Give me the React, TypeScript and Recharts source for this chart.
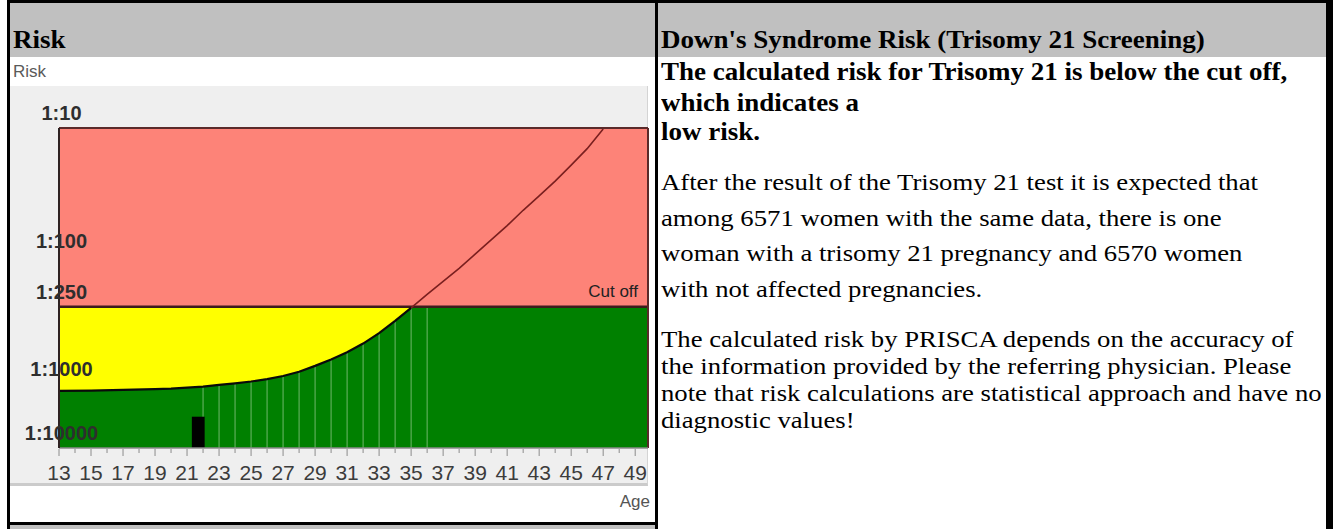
import React from "react";
import {
  ComposedChart,
  Area,
  Line,
  XAxis,
  YAxis,
  ReferenceLine,
  ReferenceArea,
} from "recharts";

// ---- chart data ----
const AGES = [13, 15, 17, 19, 20, 21, 22, 23, 24, 25, 26, 27, 28, 29, 30, 31, 32, 33, 34, 35, 36, 37, 38, 39, 40, 41, 42, 43, 44, 45, 46, 47];
const AGE_RISK = [1135, 1130, 1118, 1100, 1090, 1072, 1052, 1022, 992, 960, 920, 870, 805, 725, 645, 568, 485, 402, 322, 255, 200, 158, 125, 97, 75, 58, 44, 34, 26, 19.5, 14.5, 10.2];
const EXTRA_AGES = [48, 49, 49.8];
const X_DOMAIN = [13, 49.8];
const Y_TOP = 10;
const Y_BOTTOM = 3180;
const CUTOFF = 250;
const Y_TICKS = [10, 100, 250, 1000, 3180];
const Y_TICK_LABELS = ["1:10", "1:100", "1:250", "1:1000", "1:10000"];
const X_TICKS = [13, 14, 15, 16, 17, 18, 19, 20, 21, 22, 23, 24, 25, 26, 27, 28, 29, 30, 31, 32, 33, 34, 35, 36, 37, 38, 39, 40, 41, 42, 43, 44, 45, 46, 47, 48, 49];
const GRID_AGES = [22, 23, 24, 25, 26, 27, 28, 29, 30, 31, 32, 33, 34, 35, 36];
const PATIENT_FROM = 21.3;
const PATIENT_TO = 22.1;
const PATIENT_BAR_TOP = 1810;

// ---- text content ----
const LEFT_HEADER = "Risk";
const RIGHT_HEADER = "Down's Syndrome Risk (Trisomy 21 Screening)";
const TEXT_LINES = [
  { text: "The calculated risk for Trisomy 21 is below the cut off,", bold: true, baseline: 80 },
  { text: "which indicates a", bold: true, baseline: 111 },
  { text: "low risk.", bold: true, baseline: 140 },
  { text: "After the result of the Trisomy 21 test it is expected that", bold: false, baseline: 190 },
  { text: "among 6571 women with the same data, there is one", bold: false, baseline: 226 },
  { text: "woman with a trisomy 21 pregnancy and 6570 women", bold: false, baseline: 261 },
  { text: "with not affected pregnancies.", bold: false, baseline: 297 },
  { text: "The calculated risk by PRISCA depends on the accuracy of", bold: false, baseline: 347 },
  { text: "the information provided by the referring physician. Please", bold: false, baseline: 374 },
  { text: "note that risk calculations are statistical approach and have no", bold: false, baseline: 401 },
  { text: "diagnostic values!", bold: false, baseline: 428 },
];

const rows = [
  ...AGES.map((age, i) => ({ age, risk: AGE_RISK[i] as number | undefined })),
  ...EXTRA_AGES.map((age) => ({ age, risk: undefined as number | undefined })),
].map((r) => ({
  age: r.age,
  salmon: [CUTOFF, Y_TOP],
  yellow: [Y_BOTTOM, CUTOFF],
  green: [Y_BOTTOM, r.risk !== undefined ? Math.max(r.risk, CUTOFF) : CUTOFF],
  low: r.risk !== undefined && r.age <= 35 ? r.risk : null,
  high: r.risk !== undefined && r.age >= 35 ? r.risk : null,
}));

const riskAt = (age: number) => AGE_RISK[AGES.indexOf(age)];

const SANS = "'Liberation Sans', Arial, sans-serif";
const SERIF = "'Liberation Serif', 'Times New Roman', serif";

const YTick = (props: any) => {
  const { x, y, payload } = props;
  const i = Y_TICKS.indexOf(payload.value);
  return (
    <text
      x={x + 2.5}
      y={y - 15}
      textAnchor="middle"
      dominantBaseline="central"
      fontFamily={SANS}
      fontSize={20}
      fontWeight="bold"
      fill="#2e2e2e"
    >
      {Y_TICK_LABELS[i]}
    </text>
  );
};

const XTick = (props: any) => {
  const { x, y, payload } = props;
  const major = payload.value % 2 === 1;
  return (
    <g>
      <line x1={x} x2={x} y1={y + 1} y2={y + (major ? 8 : 5)} stroke="#8c8c8c" strokeWidth={1} />
      {major && (
        <text
          x={x}
          y={y + 24.5}
          textAnchor="middle"
          dominantBaseline="central"
          fontFamily={SANS}
          fontSize={21}
          fill="#3c3c3c"
        >
          {payload.value}
        </text>
      )}
    </g>
  );
};

const RiskChart = () => (
  <ComposedChart
    width={660}
    height={466}
    data={rows}
    margin={{ top: 71, right: 12, bottom: 35, left: 9 }}
  >
    <Area dataKey="salmon" type="linear" fill="#fd8378" fillOpacity={1} stroke="none" isAnimationActive={false} />
    <Area dataKey="yellow" type="linear" fill="#ffff00" fillOpacity={1} stroke="none" isAnimationActive={false} />
    <Area dataKey="green" type="linear" fill="#008000" fillOpacity={1} stroke="none" isAnimationActive={false} />
    {GRID_AGES.map((a) => (
      <ReferenceLine
        key={a}
        segment={[
          { x: a, y: Math.max(riskAt(a), CUTOFF) },
          { x: a, y: Y_BOTTOM },
        ]}
        stroke="#b9dcb0"
        strokeOpacity={0.6}
        strokeWidth={1}
        zIndex={150}
      />
    ))}
    <ReferenceArea
      x1={PATIENT_FROM}
      x2={PATIENT_TO}
      y1={PATIENT_BAR_TOP}
      y2={Y_BOTTOM}
      fill="#000000"
      fillOpacity={1}
      stroke="none"
      zIndex={160}
    />
    <ReferenceLine y={CUTOFF} stroke="#3e1c1c" strokeWidth={2.5}
      label={{ value: "Cut off", position: "insideBottomRight", offset: 10, fontFamily: SANS, fontSize: 17, fill: "#222" }} />
    <ReferenceLine y={Y_TOP} stroke="#5a2a2a" strokeWidth={2} />
    <ReferenceLine x={X_DOMAIN[1]} stroke="#5a2a2a" strokeWidth={2} />
    <Line dataKey="low" type="linear" stroke="#0a0a0a" strokeWidth={2.2} dot={false} isAnimationActive={false} connectNulls={false} />
    <Line dataKey="high" type="linear" stroke="#7a1f1f" strokeWidth={1.6} dot={false} isAnimationActive={false} connectNulls={false} />
    <XAxis
      dataKey="age"
      type="number"
      domain={X_DOMAIN}
      ticks={X_TICKS}
      interval={0}
      allowDataOverflow
      tickSize={0}
      tickMargin={0}
      height={40}
      axisLine={{ stroke: "#8a8a8a", strokeWidth: 1.5 }}
      tickLine={false}
      tick={<XTick />}
    />
    <YAxis
      type="number"
      scale="log"
      domain={[Y_TOP, Y_BOTTOM]}
      reversed
      allowDataOverflow
      ticks={Y_TICKS}
      interval={0}
      width={50}
      tickSize={0}
      tickMargin={0}
      axisLine={{ stroke: "#2e2222", strokeWidth: 2 }}
      tickLine={false}
      tick={<YTick />}
    />
  </ComposedChart>
);

const abs = (s: React.CSSProperties): React.CSSProperties => ({ position: "absolute", ...s });

const lineStyle = (left: number, baseline: number, bold: boolean): React.CSSProperties => {
  const size = bold ? 25 : 24;
  const stretch = bold ? 1.08 : 1.1125;
  return abs({
    left,
    top: baseline - 0.8375 * size,
    fontSize: size,
    lineHeight: size + "px",
    fontWeight: bold ? "bold" : "normal",
    whiteSpace: "nowrap",
    color: "#000",
    transform: `scaleX(${stretch})`,
    transformOrigin: "0 50%",
  });
};

export default function App() {
  return (
    <div style={abs({ left: 0, top: 0, width: 1333, height: 529, background: "#fff", overflow: "hidden", fontFamily: SERIF })}>
      {/* header row */}
      <div style={abs({ left: 10, top: 3, width: 645, height: 54, background: "#c0c0c0" })} />
      <div style={abs({ left: 658, top: 3, width: 668, height: 54, background: "#c0c0c0" })} />
      <div style={lineStyle(13, 48, true)}>{LEFT_HEADER}</div>
      <div style={lineStyle(661, 48, true)}>{RIGHT_HEADER}</div>

      {/* chart frame */}
      <div style={abs({ left: 10, top: 86, width: 637, height: 397, background: "#efefef", borderRight: "1px solid #d4d4d4", borderBottom: "3px solid #cbcbcb" })} />
      <div style={abs({ left: 13, top: 62, fontFamily: SANS, fontSize: 17, lineHeight: "20px", color: "#5a5a5a" })}>Risk</div>
      <div style={abs({ left: 0, top: 57 })}>
        <RiskChart />
      </div>
      <div style={abs({ left: 560, top: 492, width: 90, textAlign: "right", fontFamily: SANS, fontSize: 17, lineHeight: "20px", color: "#555" })}>Age</div>

      {/* right column text */}
      {TEXT_LINES.map((l, i) => (
        <div key={i} style={lineStyle(661, l.baseline, l.bold)}>
          {l.text}
        </div>
      ))}

      {/* borders */}
      <div style={abs({ left: 7, top: 0, width: 1326, height: 3, background: "#000" })} />
      <div style={abs({ left: 7, top: 0, width: 3, height: 529, background: "#000" })} />
      <div style={abs({ left: 655, top: 0, width: 3, height: 529, background: "#000" })} />
      <div style={abs({ left: 1326, top: 0, width: 7, height: 529, background: "#000" })} />
      <div style={abs({ left: 7, top: 522, width: 651, height: 3, background: "#000" })} />
      <div style={abs({ left: 10, top: 525, width: 645, height: 4, background: "#c0c0c0" })} />
    </div>
  );
}
